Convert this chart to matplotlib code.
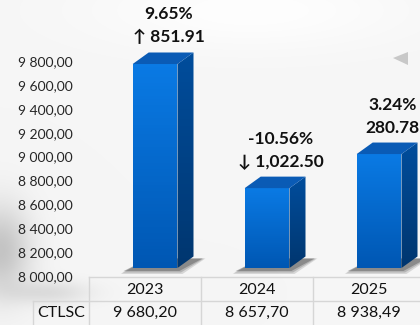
import numpy as np
import matplotlib
matplotlib.use("Agg")
import matplotlib.pyplot as plt
from matplotlib.patches import Polygon
from matplotlib.transforms import blended_transform_factory

plt.rcParams["font.family"] = ["Lato", "DejaVu Sans"]

# 数据
years = ["2023", "2024", "2025"]
values = [9680.20, 8657.70, 8938.49]
value_labels = ["9 680,20", "8 657,70", "8 938,49"]
pct_labels = ["9.65%", "-10.56%", "3.24%"]
diff_labels = ["\u2191 851.91", "\u2193 1,022.50", "280.78"]
row_name = "CTLSC"
tick_values = list(range(8000, 9801, 200))

W, H = 420, 325
fig = plt.figure(figsize=(W / 100, H / 100), dpi=100)
fig.patch.set_facecolor("#f6f6f6")

# 背景水印: 左下角灰色阴影
bg = fig.add_axes([0, 0, 1, 1], zorder=0)
yy, xx = np.mgrid[0:H, 0:W]
shade = np.exp(-(((xx - 0) / 30.0) ** 2 + ((yy - 250) / 45.0) ** 2))
shade += 0.5 * np.exp(-(((xx - 50) / 40.0) ** 2 + ((yy - 292) / 12.0) ** 2))
light = np.exp(-(((xx - 250) / 160.0) ** 2 + ((yy - 10) / 40.0) ** 2))
img = 246 - 50 * np.clip(shade, 0, 1) + 8 * light
img = np.clip(img, 0, 255) / 255.0
bg.imshow(np.dstack([img, img, img]), extent=[0, W, H, 0], aspect="auto")
bg.add_patch(Polygon([[393, 58], [408, 52], [408, 65]], closed=True,
                     color="#c8c8c8", lw=0))
bg.set_xlim(0, W)
bg.set_ylim(H, 0)
bg.axis("off")

# 柱子坐标系 (整张图)
px_per_cat = 112.0
px_per_val = 0.1214
floor_px = 268
ax = fig.add_axes([0, 0, 1, 1], zorder=2)
ax.set_xlim(-0.5 - 89 / px_per_cat, -0.5 + (W - 89) / px_per_cat)
ax.set_ylim(8000 - (H - floor_px) / px_per_val, 8000 + floor_px / px_per_val)
ax.axis("off")

base = 8000
w = 0.40
off = 0.09
dx = 0.143
dy = 95
px_x = 1 / px_per_cat
px_y = 1 / px_per_val


def grad_fill(poly, c_top, c_bot):
    xs = [p[0] for p in poly]
    ys = [p[1] for p in poly]
    t = np.linspace(0, 1, 64)
    c_top = np.array(matplotlib.colors.to_rgb(c_top))
    c_bot = np.array(matplotlib.colors.to_rgb(c_bot))
    cols = c_top[None, :] * (1 - t[:, None]) + c_bot[None, :] * t[:, None]
    patch = Polygon(poly, closed=True, facecolor="none", edgecolor="none")
    ax.add_patch(patch)
    im = ax.imshow(cols[:, None, :], extent=[min(xs), max(xs), min(ys), max(ys)],
                   origin="upper", aspect="auto", zorder=3)
    im.set_clip_path(patch)


for i, v in enumerate(values):
    x0 = i + off - w / 2
    x1 = x0 + w
    # 底部阴影
    for k, a in enumerate([0.15, 0.2, 0.3]):
        e = (2 - k) * 1.5
        ax.add_patch(Polygon([[x0 - (9 + e) * px_x, base - (3 + e) * px_y],
                              [x1 + (2 + e) * px_x, base - (3 + e) * px_y],
                              [x1 + dx + (9 + e) * px_x, base + dy - 2 * px_y],
                              [x0 + dx, base + dy - 2 * px_y]],
                             closed=True, facecolor="#2a2a2a", alpha=a,
                             lw=0, zorder=2.5))
    front = [[x0, base], [x1, base], [x1, v], [x0, v]]
    side = [[x1, base], [x1 + dx, base + dy], [x1 + dx, v + dy], [x1, v]]
    top = [[x0, v], [x1, v], [x1 + dx, v + dy], [x0 + dx, v + dy]]
    grad_fill(front, "#0a7ae4", "#0057b3")
    grad_fill(side, "#004d9c", "#00366f")
    ax.add_patch(Polygon(top, closed=True, facecolor="#0a5bb5", lw=0, zorder=3))

    cx = i + 0.21
    ax.text(cx, v + dy + 15 * px_y, diff_labels[i],
            ha="center", va="center", fontsize=12.5, fontweight="bold",
            color="#111111", zorder=4)
    ax.text(cx, v + dy + 38 * px_y, pct_labels[i],
            ha="center", va="center", fontsize=12.5, fontweight="bold",
            color="#111111", zorder=4)

# 纵轴刻度
ax2 = fig.add_axes([89 / W, (H - 276) / H, 0.01, 215 / H], zorder=1)
ax2.set_ylim(8000, 9800)
ax2.set_yticks(tick_values)
ax2.set_yticklabels([f"{t:,.2f}".replace(",", " ").replace(".", ",") for t in tick_values],
                    fontsize=10, color="#262626")
ax2.tick_params(axis="y", length=0, pad=11.5)
ax2.set_xticks([])
for s in ax2.spines.values():
    s.set_visible(False)
ax2.patch.set_alpha(0)

# 数据表
tr = blended_transform_factory(ax.transData, fig.transFigure)
line_c = "#d6d6d6"
y_top = (H - 277) / H
y_mid = (H - 301) / H
left_x = -0.5 - (89 - 33) / px_per_cat
ax.plot([-0.5, 3.0], [y_top, y_top], color=line_c, lw=1, transform=tr, clip_on=False)
ax.plot([left_x, 3.0], [y_mid, y_mid], color=line_c, lw=1, transform=tr, clip_on=False)
ax.plot([left_x, left_x], [0, y_mid], color=line_c, lw=1, transform=tr, clip_on=False)
for b in [-0.5, 0.5, 1.5, 2.5]:
    ax.plot([b, b], [0, y_top], color=line_c, lw=1, transform=tr, clip_on=False)
for i, yr in enumerate(years):
    ax.text(i, (H - 290) / H, yr, ha="center", va="center", fontsize=11.5,
            color="#111111", transform=tr)
    ax.text(i, (H - 313) / H, value_labels[i], ha="center", va="center",
            fontsize=11.5, color="#111111", transform=tr)
ax.text((left_x - 0.5) / 2, (H - 313) / H, row_name, ha="center", va="center",
        fontsize=11.5, color="#111111", transform=tr)

fig.savefig("out.png", dpi=100, facecolor=fig.get_facecolor())
